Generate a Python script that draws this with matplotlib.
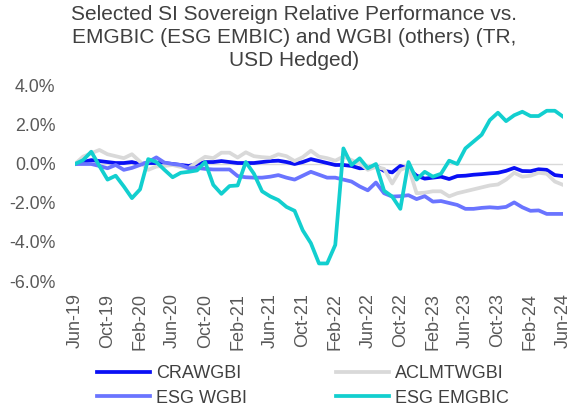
import matplotlib
matplotlib.use("Agg")
import matplotlib.pyplot as plt
import pandas as pd

plt.rcParams['font.family'] = ['Liberation Sans', 'DejaVu Sans']

dates = pd.date_range("2019-06-01", "2024-06-01", freq="MS")

crawgbi = [0, 0.1, 0.2, 0.15, 0.1, 0.05, 0.05, 0.1, 0.0, 0.05, 0.05, 0.05, 0.0, -0.05, -0.1, 0.0,
           0.1, 0.1, 0.15, 0.1, 0.05, 0.05, 0.05, 0.1, 0.15, 0.17, 0.1, 0.0, 0.1, 0.25, 0.15,
           0.05, -0.05, -0.05, -0.1, -0.22, -0.2, -0.1, -0.35, -0.43, -0.1, -0.25, -0.6, -0.75,
           -0.7, -0.65, -0.77, -0.62, -0.6, -0.55, -0.52, -0.48, -0.45, -0.35, -0.2, -0.36,
           -0.37, -0.27, -0.3, -0.57, -0.62]
aclmtwgbi = [0, 0.38, 0.55, 0.72, 0.5, 0.4, 0.3, 0.5, 0.12, -0.3, -0.13, -0.1, -0.05, -0.15, -0.2,
             0.1, 0.37, 0.3, 0.58, 0.58, 0.33, 0.6, 0.4, 0.35, 0.32, 0.5, 0.4, 0.15, 0.35, 0.68,
             0.38, 0.3, 0.17, 0.38, 0.2, 0.03, -0.3, -0.15, -0.25, -1.0, -0.3, -0.15, -1.5,
             -1.47, -1.4, -1.4, -1.66, -1.5, -1.4, -1.3, -1.2, -1.1, -1.05, -0.8, -0.45, -0.65,
             -0.6, -0.45, -0.5, -0.9, -1.07]
esg_wgbi = [0, 0.0, 0.0, -0.1, -0.22, -0.05, -0.3, -0.2, -0.05, 0.1, 0.34, 0.07, 0.0, -0.05,
            -0.22, -0.2, -0.25, -0.28, -0.28, -0.28, -0.62, -0.68, -0.7, -0.7, -0.65, -0.57,
            -0.7, -0.8, -0.6, -0.4, -0.55, -0.7, -0.7, -0.8, -0.9, -1.15, -1.35, -0.95, -1.5,
            -1.67, -1.65, -1.6, -1.8, -1.65, -1.93, -1.9, -2.0, -2.1, -2.3, -2.3, -2.25, -2.22,
            -2.25, -2.2, -1.97, -2.22, -2.4, -2.38, -2.56, -2.56, -2.56]
esg_emgbic = [0, 0.2, 0.63, -0.1, -0.8, -0.6, -1.15, -1.75, -1.3, 0.25, 0.1, -0.3, -0.68, -0.45,
              -0.4, -0.33, 0.1, -1.07, -1.53, -1.13, -1.1, 0.1, -0.5, -1.4, -1.66, -1.85, -2.2,
              -2.4, -3.4, -4.06, -5.1, -5.1, -4.15, 0.8, -0.05, 0.29, -0.22, 0.0, -1.37, -1.67,
              -2.3, 0.1, -0.8, -0.4, -0.65, -0.5, 0.17, 0.0, 0.8, 1.15, 1.5, 2.25, 2.63, 2.2, 2.5,
              2.68, 2.46, 2.46, 2.73, 2.73, 2.43]

series_names = ["CRAWGBI", "ACLMTWGBI", "ESG WGBI", "ESG EMGBIC"]
series_vals = [crawgbi, aclmtwgbi, esg_wgbi, esg_emgbic]
colors = ["#0A10F5", "#D9D9D9", "#6A74FF", "#12CFCF"]

yticks = [4.0, 2.0, 0.0, -2.0, -4.0, -6.0]
title = ("Selected SI Sovereign Relative Performance vs.\n"
         "EMGBIC (ESG EMBIC) and WGBI (others) (TR,\nUSD Hedged)")

fig = plt.figure(figsize=(5.74, 4.08), dpi=100)
ax = fig.add_axes([75/574, 1-281/408, (563-75)/574, (281-86)/408])

x = list(range(len(dates)))
ax.axhline(0, color="#D9D9D9", lw=1.0, zorder=1)
handles = {}
for name, vals, c in zip(series_names, series_vals, colors):
    ln, = ax.plot(x, vals, color=c, lw=2.7, label=name, zorder=2, solid_joinstyle="round")
    handles[name] = ln

ax.set_xlim(0, len(dates)-1)
ax.set_ylim(-6, 4)
ax.set_yticks(yticks)
ax.set_yticklabels([f"{v:.1f}%" for v in yticks])
tick_idx = list(range(0, len(dates), 4))
ax.set_xticks(tick_idx)
ax.set_xticklabels([dates[i].strftime("%b-%y") for i in tick_idx], rotation=90)
ax.tick_params(axis="y", length=0, labelsize=12.8, colors="#595959", pad=14)
ax.tick_params(axis="x", length=0, labelsize=13, colors="#595959", pad=9)
for s in ax.spines.values():
    s.set_visible(False)

fig.text(294/574, 1-5/408, title, fontsize=15, color="#404040", ha="center", va="top",
         linespacing=1.27)

order = ["CRAWGBI", "ESG WGBI", "ACLMTWGBI", "ESG EMGBIC"]
ax.legend([handles[n] for n in order], order, loc="upper left",
          bbox_to_anchor=(97/574, 1-365/408), bbox_transform=fig.transFigure,
          ncol=2, frameon=False, fontsize=13, handlelength=2.95, columnspacing=4.9,
          labelspacing=0.42, handletextpad=0.33, labelcolor="#404040", borderaxespad=0,
          borderpad=0)

fig.savefig("out.png", dpi=100)
